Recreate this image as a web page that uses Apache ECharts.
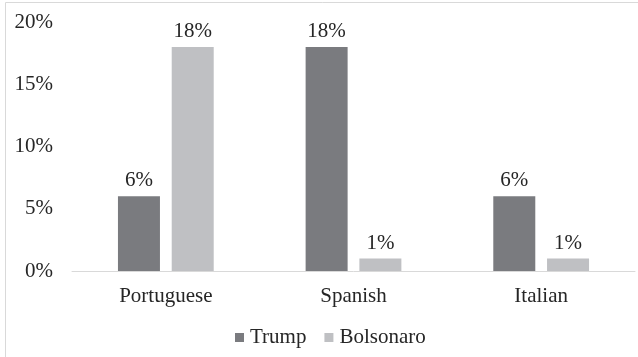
<!DOCTYPE html>
<html>
<head>
<meta charset="utf-8">
<script src="https://cdn.jsdelivr.net/npm/echarts@6/dist/echarts.min.js"></script>
<style>
  html, body { margin: 0; padding: 0; background: #fff; }
  #chart { width: 638px; height: 357px; }
</style>
</head>
<body>
<div id="chart"></div>
<script>
// Share of mentions by language
const categories = ['Portuguese', 'Spanish', 'Italian'];
const trump = [6, 18, 6];
const bolsonaro = [18, 1, 1];
const seriesNames = ['Trump', 'Bolsonaro'];

const font = '"Liberation Serif", "Times New Roman", serif';
const textColor = '#262626';
const fs = 21;

const chart = echarts.init(document.getElementById('chart'));
chart.setOption({
  animation: false,
  textStyle: { fontFamily: font },
  graphic: [{
    type: 'rect',
    shape: { x: 5.5, y: 2.5, width: 640, height: 360 },
    style: { fill: 'none', stroke: '#d9d9d9', lineWidth: 1 },
    silent: true
  }],
  grid: { left: 72, right: 3, top: 22, bottom: 86, containLabel: false },
  legend: {
    data: seriesNames,
    top: 322,
    left: 230,
    itemWidth: 9,
    itemHeight: 9,
    itemGap: 18,
    icon: 'rect',
    textStyle: { fontFamily: font, fontSize: fs, color: textColor, padding: [0, 0, 0, 1] }
  },
  xAxis: {
    type: 'category',
    data: categories,
    axisLine: { lineStyle: { color: '#d9d9d9', width: 1 } },
    axisTick: { show: false },
    axisLabel: { fontFamily: font, fontSize: fs, color: textColor, margin: 15 }
  },
  yAxis: {
    type: 'value',
    min: 0,
    max: 20,
    interval: 5,
    splitLine: { show: false },
    axisLine: { show: false },
    axisTick: { show: false },
    axisLabel: {
      fontFamily: font, fontSize: fs, color: textColor, margin: 19,
      formatter: v => v + '%'
    }
  },
  series: [
    {
      name: seriesNames[0],
      type: 'bar',
      data: trump,
      barWidth: 42,
      barGap: '28%',
      itemStyle: { color: '#7a7b7f' },
      label: {
        show: true, position: 'top', distance: 5,
        fontFamily: font, fontSize: fs, color: textColor,
        formatter: p => p.value + '%'
      }
    },
    {
      name: seriesNames[1],
      type: 'bar',
      data: bolsonaro,
      barWidth: 42,
      barGap: '28%',
      itemStyle: { color: '#bfc0c3' },
      label: {
        show: true, position: 'top', distance: 5,
        fontFamily: font, fontSize: fs, color: textColor,
        formatter: p => p.value + '%'
      }
    }
  ]
});
</script>
</body>
</html>
